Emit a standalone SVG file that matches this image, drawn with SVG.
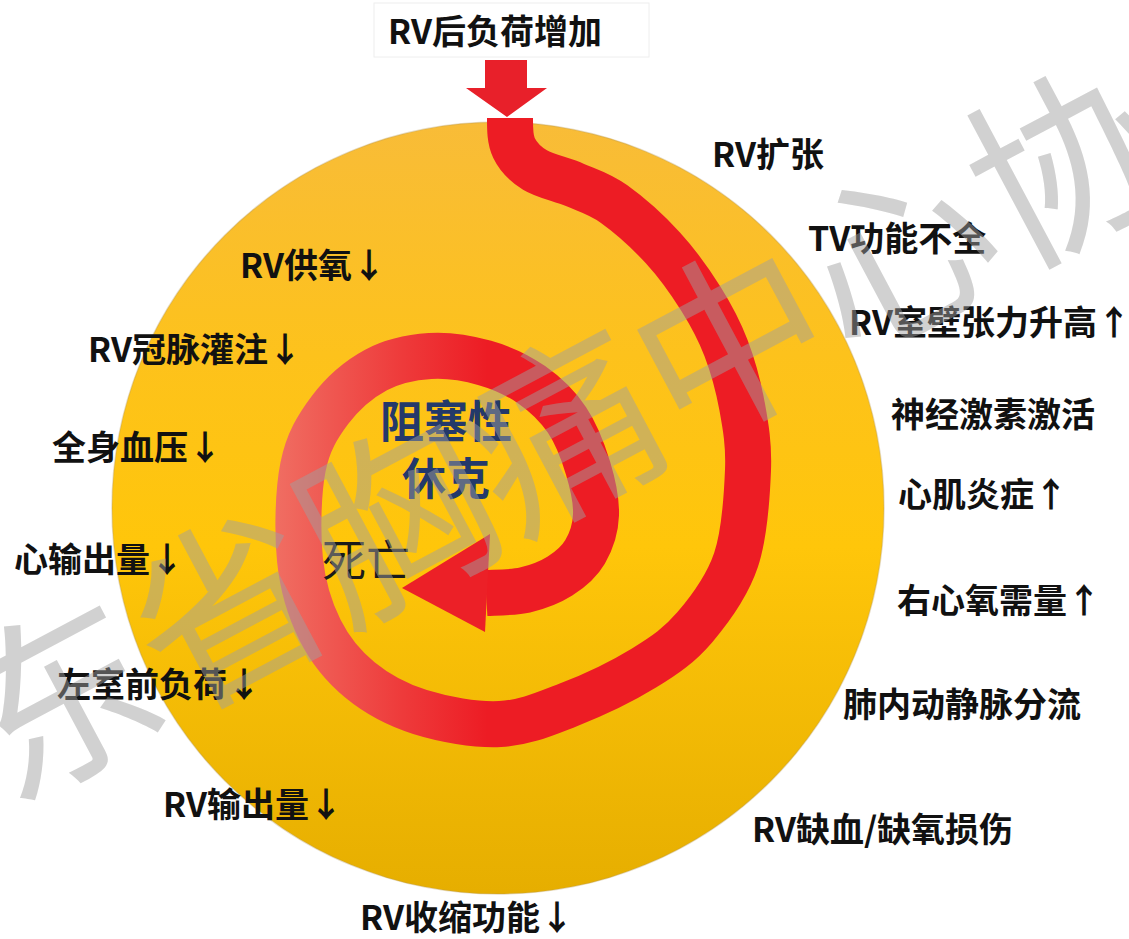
<svg xmlns="http://www.w3.org/2000/svg" width="1129" height="939" viewBox="0 0 1129 939">
<defs>
<linearGradient id="disc" x1="0" y1="122" x2="0" y2="894" gradientUnits="userSpaceOnUse">
<stop offset="0" stop-color="#F8BC38"/>
<stop offset="0.3" stop-color="#FDC21C"/>
<stop offset="0.55" stop-color="#FFC60A"/>
<stop offset="1" stop-color="#E6AE00"/>
</linearGradient>
<linearGradient id="redg" x1="270" y1="0" x2="560" y2="0" gradientUnits="userSpaceOnUse">
<stop offset="0" stop-color="#F07064"/>
<stop offset="0.45" stop-color="#EE3B3B"/>
<stop offset="0.75" stop-color="#ED1C24"/>
<stop offset="1" stop-color="#ED1C24"/>
</linearGradient>
</defs>
<style>
.lbl{font-family:"Noto Sans CJK SC","Noto Sans",sans-serif;font-weight:bold;font-size:34px;fill:#111;}
.mid{font-family:"Noto Sans CJK SC","Noto Sans",sans-serif;font-weight:bold;font-size:44px;fill:#24396A;text-anchor:middle;}
.death{font-family:"Noto Sans CJK SC","Noto Sans",sans-serif;font-size:44px;fill:#1a1a1a;}
.wm{font-family:"Noto Sans CJK SC","Noto Sans",sans-serif;font-size:190px;fill:#A0A0A0;opacity:0.48;}
</style>
<rect width="1129" height="939" fill="#FFFFFF"/>
<g id="disc-node">
<circle cx="498" cy="508" r="386" fill="url(#disc)" stroke="#B89A5A" stroke-opacity="0.35" stroke-width="1.5"/>
</g>
<g id="connectors">
<polygon points="485,60 527,60 527,88 547,88 507,117 466,88 485,88" fill="#E8202A"/>
<path d="M510,118 C510,128 509.8,139.3 514,148 C518.2,156.7 524.8,163.8 535,170 C545.2,176.2 561.8,179.3 575,185 C588.2,190.7 599.3,193.5 614,204 C628.7,214.5 648.5,232.2 663,248 C677.5,263.8 690.5,282.3 701,299 C711.5,315.7 719.2,330.2 726,348 C732.8,365.8 738.3,385.7 742,406 C745.7,426.3 749,444.3 748,470 C747,495.7 744.8,533.8 736,560 C727.2,586.2 710.3,609 695,627 C679.7,645 665.2,655 644,668 C622.8,681 592,695.7 568,705 C544,714.3 524.7,722.8 500,724 C475.3,725.2 443.3,719.3 420,712 C396.7,704.7 376.7,693.7 360,680 C343.3,666.3 330,650 320,630 C310,610 302.8,587.2 300,560 C297.2,532.8 298,492 303,467 C308,442 317.8,426.2 330,410 C342.2,393.8 359.3,379 376,370 C392.7,361 411.8,357.2 430,356 C448.2,354.8 468,358.2 485,363 C502,367.8 518.3,375.5 532,385 C545.7,394.5 557.7,406.2 567,420 C576.3,433.8 583.2,452.2 588,468 C592.8,483.8 596.5,501 596,515 C595.5,529 591,541.8 585,552 C579,562.2 570,569.7 560,576 C550,582.3 537,587.2 525,590 C513,592.8 494.2,592.5 486,593" fill="none" stroke="url(#redg)" stroke-width="46"/>
<polygon points="490,534 485,632 402,588" fill="#EC2027"/>
</g>
<g id="top-label">
<rect x="374" y="3" width="275" height="54" fill="#FFFFFF" stroke="#EEEEEE" stroke-width="1"/>
<text class="lbl" x="388" y="44">RV后负荷增加</text>
</g>
<g id="n-rv-dilation"><text class="lbl" x="712" y="167">RV扩张</text></g>
<g id="n-tv"><text class="lbl" x="808" y="251">TV功能不全</text></g>
<g id="n-wall"><text class="lbl" x="849" y="335">RV室壁张力升高↑</text></g>
<g id="n-neuro"><text class="lbl" x="891" y="427">神经激素激活</text></g>
<g id="n-myo"><text class="lbl" x="898" y="507">心肌炎症↑</text></g>
<g id="n-o2demand"><text class="lbl" x="897" y="613">右心氧需量↑</text></g>
<g id="n-shunt"><text class="lbl" x="843" y="717">肺内动静脉分流</text></g>
<g id="n-ischemia"><text class="lbl" x="752" y="842">RV缺血/缺氧损伤</text></g>
<g id="n-contract"><text class="lbl" x="360" y="930">RV收缩功能↓</text></g>
<g id="n-rvout"><text class="lbl" x="163" y="817">RV输出量↓</text></g>
<g id="n-preload"><text class="lbl" x="57" y="697">左室前负荷↓</text></g>
<g id="n-co"><text class="lbl" x="14" y="572">心输出量↓</text></g>
<g id="n-bp"><text class="lbl" x="52" y="460">全身血压↓</text></g>
<g id="n-coronary"><text class="lbl" x="88" y="362">RV冠脉灌注↓</text></g>
<g id="n-o2supply"><text class="lbl" x="240" y="278">RV供氧↓</text></g>
<g id="n-shock">
<text class="mid" x="446" y="438">阻塞性</text>
<text class="mid" x="446" y="495">休克</text>
</g>
<g id="n-death"><text class="death" x="322" y="577">死亡</text></g>
<g id="watermark">
<text class="wm" transform="translate(9,806) rotate(-28)" x="0" y="0">东省胸痛中心协</text>
</g>
</svg>
